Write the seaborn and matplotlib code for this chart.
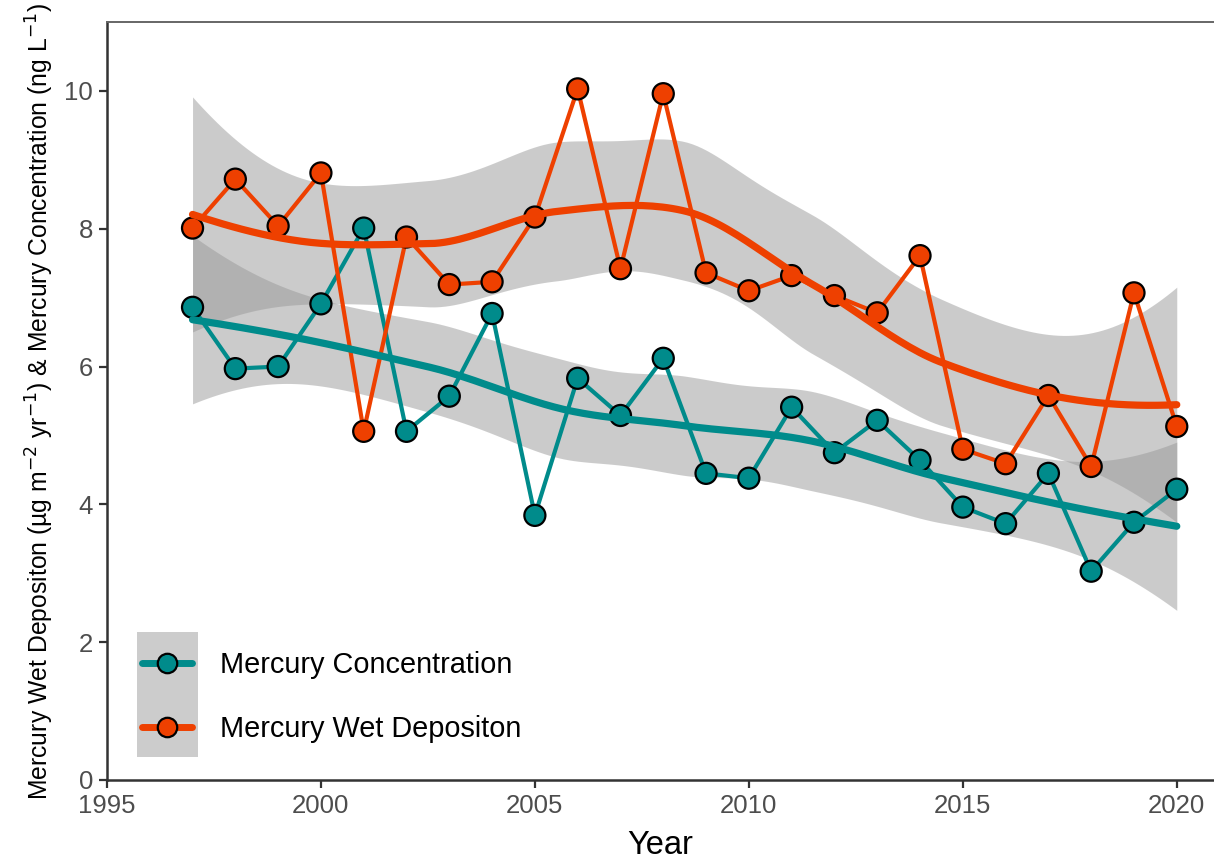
import numpy as np
import pandas as pd
import seaborn as sns
import matplotlib.pyplot as plt
from matplotlib.patches import Rectangle
from matplotlib.lines import Line2D

years = list(range(1997, 2021))
wet_deposition = [8.01, 8.72, 8.04, 8.81, 5.06, 7.88, 7.19, 7.23, 8.17, 10.03, 7.42, 9.96,
                  7.36, 7.10, 7.32, 7.03, 6.78, 7.61, 4.80, 4.59, 5.58, 4.55, 7.07, 5.13]
concentration = [6.86, 5.97, 6.00, 6.91, 8.01, 5.06, 5.57, 6.77, 3.84, 5.83, 5.29, 6.12,
                 4.45, 4.38, 5.41, 4.75, 5.22, 4.64, 3.96, 3.72, 4.45, 3.03, 3.74, 4.22]
series_names = ['Mercury Concentration', 'Mercury Wet Depositon']
series_colors = ['#008B8B', '#EE4000']


### loess (span 0.75, degree 2) like ggplot's geom_smooth default,
### with R-style kd-tree vertices + cubic hermite interpolation
def local_rows(x, x0, span=0.75):
    # operator rows for value and slope of the local quadratic at x0
    n = len(x)
    q = int(np.floor(n * span))
    d = np.abs(x - x0)
    dmax = np.sort(d)[q - 1]
    u = np.clip(d / dmax, 0, 1)
    w = (1 - u ** 3) ** 3
    X = np.column_stack([np.ones_like(x), x - x0, (x - x0) ** 2])
    W = np.diag(w)
    B = np.linalg.solve(X.T @ W @ X, X.T @ W)
    return B[0], B[1]


def kd_vertices(x, fc):
    verts = {x.min(), x.max()}

    def split(pts):
        if len(pts) <= fc:
            return
        m = np.median(pts)
        verts.add(m)
        split(pts[pts <= m])
        split(pts[pts > m])

    split(np.sort(x))
    return np.array(sorted(verts))


def interp_rows(x, grid, span=0.75):
    fc = int(np.floor(len(x) * span * 0.2))
    v = kd_vertices(x, fc)
    vals, slopes = zip(*[local_rows(x, vi, span) for vi in v])
    vals, slopes = np.array(vals), np.array(slopes)
    out = []
    for g in grid:
        i = min(np.searchsorted(v, g, side='right') - 1, len(v) - 2)
        h = v[i + 1] - v[i]
        t = (g - v[i]) / h
        h00 = 2 * t ** 3 - 3 * t ** 2 + 1
        h10 = t ** 3 - 2 * t ** 2 + t
        h01 = -2 * t ** 3 + 3 * t ** 2
        h11 = t ** 3 - t ** 2
        out.append(h00 * vals[i] + h10 * h * slopes[i] + h01 * vals[i + 1] + h11 * h * slopes[i + 1])
    return np.array(out)


def t_quantile(df, z=1.959964):
    return (z + (z ** 3 + z) / (4 * df) + (5 * z ** 5 + 16 * z ** 3 + 3 * z) / (96 * df ** 2)
            + (3 * z ** 7 + 19 * z ** 5 + 17 * z ** 3 - 15 * z) / (384 * df ** 3))


def loess_smooth(x, y, grid, span=0.75):
    x = np.asarray(x, float)
    y = np.asarray(y, float)
    n = len(x)
    L = interp_rows(x, x, span)
    R = np.eye(n) - L
    RtR = R.T @ R
    delta1 = np.trace(RtR)
    delta2 = np.trace(RtR @ RtR)
    sigma = np.sqrt(np.sum((R @ y) ** 2) / delta1)
    tq = t_quantile(delta1 ** 2 / delta2)
    rows = interp_rows(x, grid, span)
    fit = rows @ y
    se = sigma * np.sqrt(np.sum(rows ** 2, axis=1))
    return fit, fit - tq * se, fit + tq * se


df = pd.DataFrame({'Year': years * 2,
                   'value': concentration + wet_deposition,
                   'series': [series_names[0]] * len(years) + [series_names[1]] * len(years)})

sns.set_style('ticks')
plt.rcParams['font.family'] = ['Liberation Sans', 'DejaVu Sans']
plt.rcParams['mathtext.fontset'] = 'custom'
plt.rcParams['mathtext.rm'] = 'Liberation Sans Narrow'
plt.rcParams['mathtext.it'] = 'Liberation Sans Narrow'

fig = plt.figure(figsize=(12.14, 8.61), dpi=100)
ax = fig.add_axes([0.0881, 0.0941, 0.9119, 0.8803])

grid = np.linspace(min(years), max(years), 200)
smooths = {}
for name in series_names:
    sub = df[df['series'] == name]
    smooths[name] = loess_smooth(sub['Year'].values, sub['value'].values, grid)

# confidence bands first
for name in series_names:
    fit, lo, hi = smooths[name]
    ax.fill_between(grid, lo, hi, color='#999999', alpha=0.5, linewidth=0, zorder=1)

# raw series: lines + points
sns.lineplot(data=df, x='Year', y='value', hue='series', palette=series_colors,
             hue_order=series_names, linewidth=3, legend=False, ax=ax, zorder=2)
sns.scatterplot(data=df, x='Year', y='value', hue='series', palette=series_colors,
                hue_order=series_names, s=230, edgecolor='black', linewidth=1.6,
                legend=False, ax=ax, zorder=3)

# smooth lines on top
for name, color in zip(series_names, series_colors):
    smooth_df = pd.DataFrame({'Year': grid, 'fit': smooths[name][0]})
    sns.lineplot(data=smooth_df, x='Year', y='fit', color=color, linewidth=5.2,
                 ax=ax, zorder=4)

ax.set_xlim(1995, 2020.87)
ax.set_ylim(0, 11)
ax.set_xticks(range(1995, 2021, 5))
ax.set_yticks(range(0, 11, 2))
ax.tick_params(axis='both', labelsize=18.5, labelcolor='#4D4D4D', color='#333333',
               length=6, width=1.6, pad=4)

for side in ['left', 'bottom']:
    ax.spines[side].set_color('#333333')
    ax.spines[side].set_linewidth(1.8)
ax.spines['top'].set_color('#666666')
ax.spines['top'].set_linewidth(1.4)
ax.spines['right'].set_visible(False)

ax.set_xlabel('Year', fontsize=23.5, family=['Liberation Sans Narrow', 'Liberation Sans'],
              color='black', labelpad=9)
ax.set_ylabel('Mercury Wet Depositon (µg m$^{-2}$ yr$^{-1}$) & Mercury Concentration (ng L$^{-1}$)',
              fontsize=17.8, family=['Liberation Sans Narrow', 'Liberation Sans'],
              color='black', labelpad=6)

# legend with grey key background
ax.add_patch(Rectangle((0.027, 0.030), 0.055, 0.165, transform=ax.transAxes,
                       facecolor='#CCCCCC', edgecolor='none', zorder=5))
handles = [Line2D([0], [0], color=c, linewidth=5, marker='o', markersize=14,
                  markerfacecolor=c, markeredgecolor='black', markeredgewidth=1.6)
           for c in series_colors]
leg = ax.legend(handles, series_names, loc='lower left', bbox_to_anchor=(0.021, 0.034),
                frameon=False, fontsize=20.8, handlelength=1.73, handletextpad=0.97,
                labelspacing=1.22, borderaxespad=0, labelcolor='black')
leg.set_zorder(6)

fig.savefig('out.png', dpi=100)
